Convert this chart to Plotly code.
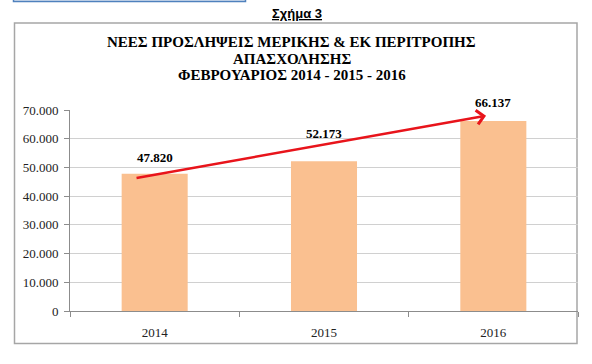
import plotly.graph_objects as go

years = ["2014", "2015", "2016"]
hires = [47820, 52173, 66137]
value_labels = ["47.820", "52.173", "66.137"]
label_offsets = [16, 28, 19]

title_lines = ["ΝΕΕΣ ΠΡΟΣΛΗΨΕΙΣ ΜΕΡΙΚΗΣ & ΕΚ ΠΕΡΙΤΡΟΠΗΣ", "ΑΠΑΣΧΟΛΗΣΗΣ", "ΦΕΒΡΟΥΑΡΙΟΣ 2014 - 2015 - 2016"]
y_ticks = [0, 10000, 20000, 30000, 40000, 50000, 60000, 70000]

W, H = 592, 364
L, R, T, B = 70, 14, 110, 53
pw = W - L - R
ph = H - T - B

def px(x):
    return (x - L) / pw

def py(y):
    return (H - B - y) / ph

fig = go.Figure()
fig.add_trace(go.Bar(x=years, y=hires, marker=dict(color="#FAC090", line=dict(width=0)),
                     hoverinfo="skip"))

annotations = []
for i, (v, lab, off) in enumerate(zip(hires, value_labels, label_offsets)):
    annotations.append(dict(x=i, y=v, xref="x", yref="y", text="<b>" + lab + "</b>", showarrow=False,
                            yshift=off, yanchor="middle", xanchor="center",
                            font=dict(family="Liberation Serif", size=13, color="#000000")))

# trend arrow from first bar to last bar
annotations.append(dict(x=1.957, y=68000, ax=-0.116, ay=46215, xref="x", yref="y",
                        axref="x", ayref="y", text="", showarrow=True,
                        arrowhead=4, arrowsize=1.1, arrowwidth=2.5, arrowcolor="#E8141B"))

title_py = [42.3, 58.6, 75.2]
for line, yy in zip(title_lines, title_py):
    annotations.append(dict(x=px(291.5), y=py(yy), xref="paper", yref="paper",
                            text="<b>" + line + "</b>", showarrow=False,
                            xanchor="center", yanchor="middle",
                            font=dict(family="Liberation Serif", size=15, color="#000000")))

annotations.append(dict(x=px(297), y=py(13), xref="paper", yref="paper",
                        text="<b><u>Σχήμα 3</u></b>", showarrow=False,
                        xanchor="center", yanchor="middle",
                        font=dict(family="Liberation Sans", size=13, color="#000000")))

shapes = [
    dict(type="rect", xref="paper", yref="paper", x0=px(14.5), x1=px(577), y0=py(343.5), y1=py(23),
         line=dict(color="#A6A6A6", width=1.5), fillcolor="rgba(0,0,0,0)", layer="below"),
    dict(type="rect", xref="paper", yref="paper", x0=px(13.5), x1=px(245.5), y0=py(1.5), y1=py(-8),
         line=dict(color="#4F81BD", width=1.5), fillcolor="#DCE6F2", layer="below"),
]

fig.update_layout(
    width=W, height=H,
    margin=dict(l=L, r=R, t=T, b=B, autoexpand=False),
    paper_bgcolor="#FFFFFF", plot_bgcolor="#FFFFFF",
    separators=",.",
    bargap=0.61,
    showlegend=False,
    hovermode=False,
    annotations=annotations,
    shapes=shapes,
    xaxis=dict(type="category", showline=True, linecolor="#8C8C8C", linewidth=1,
               ticks="outside", tickson="boundaries", ticklen=5, tickcolor="#8C8C8C",
               ticklabelstandoff=9,
               showgrid=False, tickfont=dict(family="Liberation Serif", size=13, color="#222222"),
               range=[-0.5, 2.5]),
    yaxis=dict(range=[0, 70000], tickvals=y_ticks, tickformat=",d", showline=True,
               linecolor="#8C8C8C", linewidth=1, ticks="outside", ticklen=5, tickcolor="#8C8C8C",
               ticklabelstandoff=3,
               showgrid=True, gridcolor="#D0D0D0", gridwidth=1, zeroline=False,
               tickfont=dict(family="Liberation Serif", size=13, color="#222222")),
)

fig.write_html("out.html", config={"displayModeBar": False},
               post_script="document.body.style.margin='0';document.body.style.overflow='hidden';")
